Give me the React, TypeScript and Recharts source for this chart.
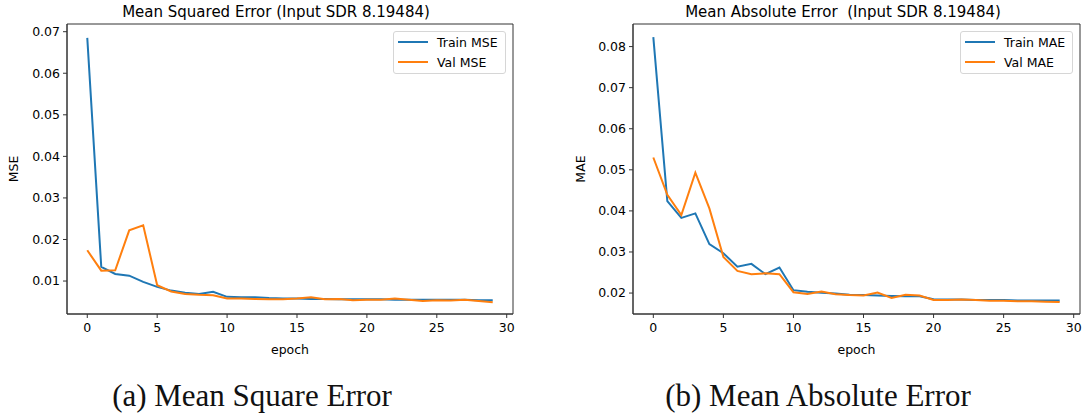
import { LineChart, Line, XAxis, YAxis, Legend, ReferenceArea } from "recharts";

const epochs = [0, 1, 2, 3, 4, 5, 6, 7, 8, 9, 10, 11, 12, 13, 14, 15, 16, 17, 18, 19, 20, 21, 22, 23, 24, 25, 26, 27, 28, 29];

const trainMse = [
  0.0685, 0.0134, 0.0117, 0.0113, 0.0098, 0.0086, 0.0077, 0.0072, 0.0069, 0.0074,
  0.0062, 0.0061, 0.0061, 0.0059, 0.0058, 0.0058, 0.0057, 0.0057, 0.0056, 0.0056,
  0.0056, 0.0056, 0.0055, 0.0055, 0.0055, 0.0055, 0.0055, 0.0055, 0.0054, 0.0054,
];
const valMse = [
  0.0174, 0.0125, 0.0126, 0.0222, 0.0234, 0.009, 0.0075, 0.0069, 0.0067, 0.0066,
  0.0058, 0.0058, 0.0057, 0.0056, 0.0056, 0.0058, 0.0061, 0.0056, 0.0057, 0.0054,
  0.0055, 0.0055, 0.0058, 0.0055, 0.0052, 0.0054, 0.0053, 0.0055, 0.0052, 0.0049,
];
const trainMae = [
  0.0823, 0.0424, 0.0383, 0.0394, 0.0319, 0.0297, 0.0264, 0.0271, 0.0246, 0.0262,
  0.0207, 0.0203, 0.0201, 0.0199, 0.0196, 0.0195, 0.0194, 0.0193, 0.0192, 0.0192,
  0.0185, 0.0184, 0.0184, 0.0183, 0.0183, 0.0183, 0.0182, 0.0182, 0.0182, 0.0182,
];
const valMae = [
  0.053, 0.0439, 0.039, 0.0493, 0.0406, 0.0288, 0.0254, 0.0246, 0.0248, 0.0246,
  0.0202, 0.0198, 0.0204, 0.0197, 0.0195, 0.0194, 0.0201, 0.0188, 0.0196, 0.0194,
  0.0183, 0.0183, 0.0184, 0.0183, 0.0181, 0.0181, 0.018, 0.018, 0.0179, 0.0178,
];

const xTicks = [0, 5, 10, 15, 20, 25, 30];
const mseTicks = [0.01, 0.02, 0.03, 0.04, 0.05, 0.06, 0.07];
const maeTicks = [0.02, 0.03, 0.04, 0.05, 0.06, 0.07, 0.08];

const BLUE = "#1f77b4";
const ORANGE = "#ff7f0e";
const AXIS = "#333";
const xDomain: [number, number] = [-1.45, 30.45];

function LegendBox({ labels }: { labels: string[] }) {
  const colors = [BLUE, ORANGE];
  return (
    <div
      style={{
        width: 113,
        height: 43,
        boxSizing: "border-box",
        border: "1px solid #d6d6d6",
        borderRadius: 3,
        background: "rgba(255,255,255,0.8)",
        fontSize: 12.5,
        color: "#000",
      }}
    >
      {labels.map((l, i) => (
        <div key={l} style={{ height: 20, display: "flex", alignItems: "center" }}>
          <div style={{ marginLeft: 4, width: 30, height: 2, background: colors[i] }} />
          <span style={{ marginLeft: 9 }}>{l}</span>
        </div>
      ))}
    </div>
  );
}

type PanelProps = {
  left: number;
  yWidth: number;
  right: number;
  train: number[];
  val: number[];
  names: string[];
  yLabel: string;
  yLabelOffset: number;
  yDomain: [number, number];
  yTicks: number[];
  legendLeft: number;
};

function Panel(p: PanelProps) {
  const data = epochs.map((e, i) => ({ epoch: e, train: p.train[i], val: p.val[i] }));
  return (
    <div style={{ position: "absolute", left: p.left, top: 0 }}>
      <LineChart width={543} height={360} data={data} margin={{ top: 24, right: p.right, bottom: 0, left: 0 }}>
        <ReferenceArea
          x1={xDomain[0]}
          x2={xDomain[1]}
          y1={p.yDomain[0]}
          y2={p.yDomain[1]}
          fill="none"
          stroke={AXIS}
          strokeWidth={1}
          ifOverflow="visible"
        />
        <XAxis
          dataKey="epoch"
          type="number"
          domain={xDomain}
          ticks={xTicks}
          height={46}
          tickSize={4}
          tickMargin={5}
          stroke={AXIS}
          tick={{ fill: "#000", fontSize: 12.5 }}
          label={{ value: "epoch", position: "insideBottom", offset: 6, fill: "#000", fontSize: 12.5 }}
        />
        <YAxis
          type="number"
          domain={p.yDomain}
          ticks={p.yTicks}
          width={p.yWidth}
          tickSize={4}
          tickMargin={3}
          stroke={AXIS}
          tickFormatter={(v: number) => v.toFixed(2)}
          tick={{ fill: "#000", fontSize: 12.5 }}
          label={{
            value: p.yLabel,
            angle: -90,
            position: "insideLeft",
            offset: p.yLabelOffset,
            fill: "#000",
            fontSize: 12.5,
            style: { textAnchor: "middle" },
          }}
        />
        <Legend
          layout="vertical"
          align="center"
          verticalAlign="middle"
          wrapperStyle={{ top: 31, left: p.legendLeft, width: 113 }}
          content={() => <LegendBox labels={p.names} />}
        />
        <Line type="linear" dataKey="train" name={p.names[0]} stroke={BLUE} strokeWidth={2} dot={false} isAnimationActive={false} />
        <Line type="linear" dataKey="val" name={p.names[1]} stroke={ORANGE} strokeWidth={2} dot={false} isAnimationActive={false} />
      </LineChart>
    </div>
  );
}

const titleStyle: React.CSSProperties = {
  position: "absolute",
  top: 5,
  transform: "translateX(-50%)",
  fontSize: 15,
  lineHeight: 1,
  whiteSpace: "pre",
  color: "#000",
};

const captionStyle: React.CSSProperties = {
  position: "absolute",
  top: 380,
  transform: "translateX(-50%)",
  fontFamily: "'Liberation Serif', serif",
  fontSize: 31,
  lineHeight: 1,
  whiteSpace: "pre",
  color: "#111",
};

export default function App() {
  return (
    <div
      style={{
        position: "absolute",
        left: 0,
        top: 0,
        width: 1086,
        height: 417,
        background: "#fff",
        fontFamily: "'DejaVu Sans', sans-serif",
        overflow: "hidden",
      }}
    >
      <Panel
        left={0}
        yWidth={67}
        right={30}
        train={trainMse}
        val={valMse}
        names={["Train MSE", "Val MSE"]}
        yLabel="MSE"
        yLabelOffset={14}
        yDomain={[0.00207, 0.07185]}
        yTicks={mseTicks}
        legendLeft={393}
      />
      <Panel
        left={543}
        yWidth={90}
        right={6}
        train={trainMae}
        val={valMae}
        names={["Train MAE", "Val MAE"]}
        yLabel="MAE"
        yLabelOffset={38}
        yDomain={[0.0149, 0.0855]}
        yTicks={maeTicks}
        legendLeft={417}
      />
      <div style={{ ...titleStyle, left: 276 }}>Mean Squared Error (Input SDR 8.19484)</div>
      <div style={{ ...titleStyle, left: 843 }}>Mean Absolute Error  (Input SDR 8.19484)</div>
      <div style={{ ...captionStyle, left: 252 }}>(a) Mean Square Error</div>
      <div style={{ ...captionStyle, left: 818 }}>(b) Mean Absolute Error</div>
    </div>
  );
}
